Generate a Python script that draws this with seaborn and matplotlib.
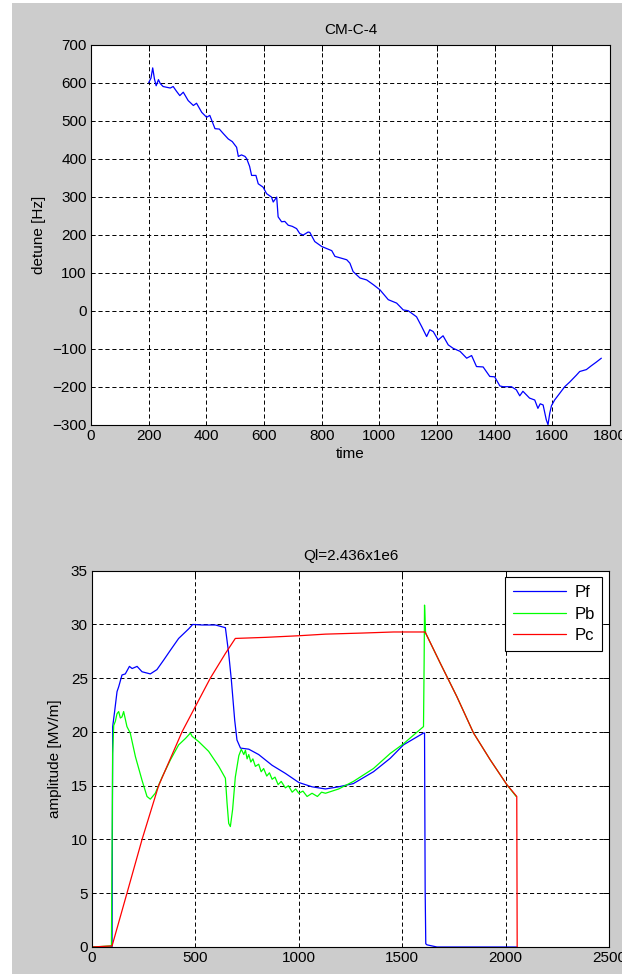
import matplotlib
matplotlib.use("Agg")
import matplotlib.pyplot as plt
from matplotlib.patches import Rectangle
import seaborn as sns
import pandas as pd

# ---------------- data ----------------
det_time = [200, 208, 214, 220, 226, 234, 240, 250, 262, 275,
            285, 296, 308, 320, 337, 355, 366, 384, 401, 412,
            430, 445, 459, 476, 490, 505, 511, 522, 534, 540,
            550, 557, 572, 580, 597, 609, 626, 632, 644, 649,
            661, 672, 684, 698, 713, 724, 736, 753, 759, 776,
            800, 835, 846, 869, 887, 898, 909, 933, 956, 980,
            1002, 1031, 1060, 1083, 1100, 1129, 1147, 1164, 1175, 1187,
            1204, 1221, 1239, 1256, 1280, 1303, 1320, 1337, 1360, 1371,
            1383, 1400, 1418, 1429, 1458, 1475, 1487, 1498, 1521, 1539,
            1550, 1558, 1568, 1579, 1585, 1591, 1597, 1608, 1625, 1643,
            1660, 1683, 1695, 1718, 1735, 1753, 1770]
det_hz = [600, 612, 639, 610, 592, 608, 598, 590, 588, 586,
          590, 578, 566, 575, 553, 540, 546, 522, 509, 514,
          479, 478, 466, 452, 445, 430, 406, 410, 406, 400,
          380, 356, 356, 334, 325, 308, 299, 286, 299, 247,
          234, 235, 225, 222, 216, 203, 199, 207, 206, 182,
          169, 158, 143, 138, 134, 125, 103, 86, 81, 68,
          55, 29, 20, 2, 0, -16, -42, -68, -50, -55,
          -77, -66, -90, -99, -107, -125, -118, -147, -148, -160,
          -173, -174, -198, -200, -200, -208, -224, -212, -230, -235,
          -257, -245, -248, -287, -300, -270, -250, -235, -218, -200,
          -188, -170, -160, -155, -145, -135, -125]

pf_t = [0, 97, 100, 110, 121, 129, 145, 161, 181, 194,
        218, 242, 282, 314, 347, 379, 419, 468, 487, 532,
        597, 645, 661, 674, 690, 701, 718, 758, 806, 871,
        935, 1000, 1064, 1129, 1193, 1264, 1361, 1442, 1506, 1603,
        1608, 1611, 1614, 1620, 1668, 2054]
pf_v = [0.0, 0.0, 20.5, 22.0, 23.75, 24.2, 25.3, 25.4, 26.1, 25.9,
        26.1, 25.6, 25.4, 25.8, 26.7, 27.6, 28.7, 29.6, 30.0, 29.95,
        29.95, 29.7, 27.3, 24.8, 21.1, 19.25, 18.5, 18.4, 17.9, 16.9,
        16.15, 15.3, 14.9, 14.7, 14.9, 15.2, 16.3, 17.55, 18.8, 19.9,
        19.9, 5.3, 0.3, 0.2, 0.0, 0.0]

pb_t = [0, 94, 100, 105, 113, 121, 129, 137, 145, 153,
        161, 169, 185, 210, 242, 266, 282, 306, 339, 379,
        419, 452, 476, 484, 516, 564, 613, 645, 653, 661,
        669, 680, 693, 710, 722, 734, 742, 750, 758, 768,
        778, 790, 806, 818, 830, 845, 858, 871, 885, 900,
        915, 935, 950, 968, 985, 1000, 1020, 1040, 1064, 1090,
        1110, 1129, 1193, 1264, 1361, 1442, 1506, 1603, 1606, 1608,
        1613, 1684, 1764, 1845, 1926, 2006, 2051]
pb_v = [0.0, 0.1, 18.0, 20.6, 21.0, 21.7, 21.9, 21.3, 21.4, 21.9,
        21.2, 20.5, 19.9, 17.7, 15.5, 14.0, 13.75, 14.3, 15.8, 17.4,
        18.8, 19.4, 19.9, 19.6, 19.1, 18.2, 16.8, 15.7, 13.4, 11.5,
        11.2, 12.8, 15.8, 17.8, 18.4, 17.9, 18.3, 17.5, 17.9, 17.2,
        17.5, 16.8, 17.0, 16.3, 16.6, 15.9, 16.2, 15.6, 15.8, 15.1,
        15.4, 14.8, 15.0, 14.4, 14.7, 14.3, 14.5, 14.0, 14.3, 14.0,
        14.4, 14.3, 14.7, 15.4, 16.6, 18.0, 18.9, 20.5, 26.4, 31.8,
        29.2, 26.4, 23.3, 19.9, 17.4, 15.1, 14.0]

pc_t = [0, 97, 169, 242, 322, 435, 572, 645, 693, 839,
        1000, 1129, 1306, 1458, 1611, 1684, 1764, 1845, 1926, 2006,
        2054, 2056]
pc_v = [0.0, 0.1, 5.0, 10.0, 15.0, 20.0, 25.0, 27.3, 28.7, 28.8,
        28.95, 29.1, 29.2, 29.3, 29.3, 26.4, 23.3, 19.9, 17.4, 15.1,
        14.0, 0.0]

top_xticks = list(range(0, 1801, 200))
top_yticks = list(range(-300, 701, 100))
bot_xticks = list(range(0, 2501, 500))
bot_yticks = list(range(0, 36, 5))

# ---------------- style ----------------
sns.set_theme(style="white")
FS = 11
plt.rcParams.update({
    "font.family": ["Liberation Sans", "DejaVu Sans"],
    "font.size": FS,
    "xtick.direction": "in", "ytick.direction": "in",
    "xtick.top": True, "ytick.right": True,
    "xtick.major.size": 4, "ytick.major.size": 4,
    "xtick.major.width": 0.7, "ytick.major.width": 0.7,
    "xtick.color": "black", "ytick.color": "black",
    "xtick.labelsize": FS, "ytick.labelsize": FS,
    "xtick.major.pad": 3, "ytick.major.pad": 3,
    "lines.scale_dashes": False,
    "axes.edgecolor": "black", "axes.linewidth": 0.8,
    "text.color": "black", "axes.labelcolor": "black",
})

W, H = 622, 974
fig = plt.figure(figsize=(W / 100, H / 100), dpi=100, facecolor="#cccccc")
fig.patches.append(Rectangle((0, 0), 12 / W, 1, transform=fig.transFigure,
                             facecolor="white", edgecolor="none", zorder=-5))
fig.patches.append(Rectangle((0, 1 - 3 / H), 1, 3 / H, transform=fig.transFigure,
                             facecolor="white", edgecolor="none", zorder=-5))

ax1 = fig.add_axes([91 / W, 1 - 424.7 / H, 519 / W, 380 / H])
ax2 = fig.add_axes([92 / W, 1 - 947 / H, 517 / W, 376.3 / H])

grid_kw = dict(color="black", linestyle=(0, (3, 2)), linewidth=0.7)

# top chart
df_top = pd.DataFrame({"time": det_time, "detune": det_hz})
sns.lineplot(data=df_top, x="time", y="detune", ax=ax1, color="#0000ff",
             lw=0.9, sort=False, estimator=None)
ax1.set_xlim(0, 1800)
ax1.set_ylim(-300, 700)
ax1.set_xticks(top_xticks)
ax1.set_yticks(top_yticks)
ax1.grid(True, **grid_kw)
ax1.set_axisbelow(True)
ax1.set_title("CM-C-4", fontsize=FS, pad=8)
ax1.set_xlabel("time", fontsize=FS, labelpad=3)
ax1.set_ylabel("detune [Hz]", fontsize=FS, labelpad=5)

# bottom chart
series = [("Pf", pf_t, pf_v, "#0000ff"),
          ("Pb", pb_t, pb_v, "#00ff00"),
          ("Pc", pc_t, pc_v, "#ff0000")]
for name, t, v, c in series:
    d = pd.DataFrame({"t": t, "v": v})
    sns.lineplot(data=d, x="t", y="v", ax=ax2, color=c, lw=0.9,
                 sort=False, estimator=None, label=name)
ax2.set_xlim(0, 2500)
ax2.set_ylim(0, 35)
ax2.set_xticks(bot_xticks)
ax2.set_yticks(bot_yticks)
ax2.grid(True, **grid_kw)
ax2.set_axisbelow(True)
ax2.set_title("Ql=2.436x1e6", fontsize=FS, pad=8)
ax2.set_xlabel("")
ax2.set_ylabel("amplitude [MV/m]", fontsize=FS, labelpad=6)
leg = ax2.legend(loc="upper right", fontsize=FS + 1, frameon=True, fancybox=False,
                 edgecolor="black", framealpha=1, borderaxespad=0.4,
                 handlelength=3.2, labelspacing=0.4, handletextpad=0.5,
                 borderpad=0.45)
leg.get_frame().set_linewidth(0.8)

for ax in (ax1, ax2):
    ax.set_facecolor("white")
    for s in ax.spines.values():
        s.set_color("black")
        s.set_linewidth(0.8)

fig.savefig("out.png", dpi=100, facecolor=fig.get_facecolor())
